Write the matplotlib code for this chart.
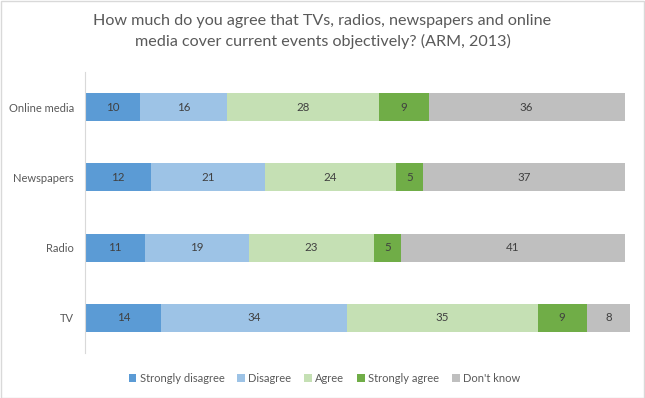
import numpy as np
import matplotlib.pyplot as plt

plt.rcParams['font.family'] = ['Lato', 'DejaVu Sans']

categories = ['TV', 'Radio', 'Newspapers', 'Online media']
series = ['Strongly disagree', 'Disagree', 'Agree', 'Strongly agree', "Don't know"]
values = {
    'Strongly disagree': [14, 11, 12, 10],
    'Disagree': [34, 19, 21, 16],
    'Agree': [35, 23, 24, 28],
    'Strongly agree': [9, 5, 5, 9],
    "Don't know": [8, 41, 37, 36],
}
colors = ['#5B9BD5', '#9DC3E6', '#C5E0B4', '#70AD47', '#BFBFBF']

fig = plt.figure(figsize=(6.45, 3.98), dpi=100)
ax = fig.add_axes([0.132, 0.113, 0.845, 0.706])

y = np.arange(len(categories))
left = np.zeros(len(categories))
for name, col in zip(series, colors):
    vals = np.array(values[name])
    bars = ax.barh(y, vals, left=left, height=0.4, color=col, label=name)
    ax.bar_label(bars, labels=[str(v) for v in vals], label_type='center',
                 fontsize=8.3, color='#404040')
    left += vals

ax.set_xlim(0, 100)
ax.set_ylim(-0.5, 3.5)
ax.set_yticks(y)
ax.set_yticklabels(categories, fontsize=8, color='#595959')
ax.tick_params(axis='y', length=0, pad=8)
ax.set_xticks([])
for s in ['top', 'right', 'bottom']:
    ax.spines[s].set_visible(False)
ax.spines['left'].set_color('#D9D9D9')

fig.suptitle('How much do you agree that TVs, radios, newspapers and online\n'
             'media cover current events objectively? (ARM, 2013)',
             x=0.5, y=0.965, fontsize=11.6, color='#595959', linespacing=1.5)

fig.legend(loc='center', bbox_to_anchor=(0.503, 0.05), ncol=5, frameon=False,
           fontsize=8, labelcolor='#595959', handlelength=0.7, handleheight=0.7,
           handletextpad=0.3, columnspacing=1.15)

fig.patches.append(plt.Rectangle((0.001, 0.001), 0.997, 0.997, transform=fig.transFigure,
                                 fill=False, edgecolor='#D9D9D9', linewidth=1))

fig.savefig('out.png', dpi=100)
